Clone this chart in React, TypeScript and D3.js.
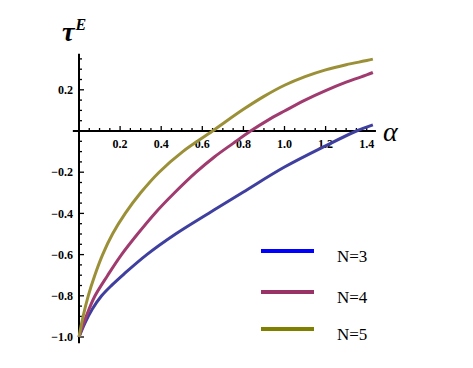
import React, { useEffect, useRef } from 'react';
import * as d3 from 'd3';

// values: [alpha, tau]
const n3: [number, number][] = [
  [0, -1.0], [0.03, -0.93], [0.065, -0.864], [0.11, -0.8], [0.16, -0.748], [0.22, -0.693],
  [0.33, -0.6], [0.47, -0.5], [0.63, -0.4], [0.8, -0.296], [1.0, -0.175], [1.2, -0.072],
  [1.35, 0], [1.43, 0.03],
];
const n4: [number, number][] = [
  [0, -1.0], [0.035, -0.9], [0.078, -0.8], [0.14, -0.7], [0.207, -0.6], [0.285, -0.5],
  [0.369, -0.4], [0.465, -0.3], [0.57, -0.2], [0.66, -0.125], [0.75, -0.06], [0.835, 0],
  [0.92, 0.053], [1.0, 0.097], [1.1, 0.15], [1.2, 0.196], [1.3, 0.237], [1.4, 0.272],
  [1.43, 0.284],
];
const n5: [number, number][] = [
  [0, -1.0], [0.02, -0.9], [0.045, -0.8], [0.077, -0.7], [0.115, -0.6], [0.163, -0.5],
  [0.225, -0.4], [0.3, -0.3], [0.39, -0.2], [0.505, -0.1], [0.65, 0], [0.8, 0.105],
  [0.9, 0.168], [1.0, 0.222], [1.1, 0.264], [1.2, 0.297], [1.3, 0.322], [1.4, 0.342],
  [1.43, 0.349],
];
const seriesNames = ['N=3', 'N=4', 'N=5'];
const lineColors = ['#3f3f9f', '#a03b70', '#9b9037'];
const legendColors = ['#0000ff', '#993366', '#808000'];
const xTicks = [0.2, 0.4, 0.6, 0.8, 1.0, 1.2, 1.4];
const yTicks = [0.2, -0.2, -0.4, -0.6, -0.8, -1.0];

const serif = '"Liberation Serif", "Times New Roman", "DejaVu Serif", serif';

const App = () => {
  const ref = useRef<SVGSVGElement>(null);

  useEffect(() => {
    const svg = d3.select(ref.current);
    svg.selectAll('*').remove();

    const x = d3.scaleLinear().domain([0, 1.4]).range([79, 366.7]);
    const y = d3.scaleLinear().domain([0, -1]).range([131, 337]);

    // minor ticks every 0.05
    const xMinor = d3.range(0.05, 1.44, 0.05);
    const yMinor = d3.range(-1.0, 0.37, 0.05);

    const axes = svg.append('g').attr('stroke', '#000');
    axes.append('line')
      .attr('x1', x(-0.03)).attr('x2', x(1.445))
      .attr('y1', y(0)).attr('y2', y(0))
      .attr('stroke-width', 2);
    axes.append('line')
      .attr('x1', x(0)).attr('x2', x(0))
      .attr('y1', y(0.375)).attr('y2', y(-1.03))
      .attr('stroke-width', 2);

    const isMajor = (v: number) => Math.abs(v * 5 - Math.round(v * 5)) < 1e-6;

    axes.selectAll('.xt').data(xMinor).enter().append('line')
      .attr('x1', d => x(d)).attr('x2', d => x(d))
      .attr('y1', y(0)).attr('y2', d => y(0) - (isMajor(d) ? 5 : 3))
      .attr('stroke-width', 1.3);
    axes.selectAll('.yt').data(yMinor.filter(d => Math.abs(d) > 1e-6)).enter().append('line')
      .attr('x1', x(0)).attr('x2', d => x(0) + (isMajor(d) ? 5 : 3))
      .attr('y1', d => y(d)).attr('y2', d => y(d))
      .attr('stroke-width', 1.3);

    const fmt = (v: number) => (v < 0 ? '\u2212' : '') + Math.abs(v).toFixed(1);

    svg.selectAll('.xl').data(xTicks).enter().append('text')
      .attr('x', d => x(d)).attr('y', y(0) + 17)
      .attr('text-anchor', 'middle')
      .attr('font-family', serif).attr('font-weight', 'bold').attr('font-size', 12)
      .text(d => d.toFixed(1));
    svg.selectAll('.yl').data(yTicks).enter().append('text')
      .attr('x', x(0) - 6).attr('y', d => y(d)).attr('dy', '0.35em')
      .attr('text-anchor', 'end')
      .attr('font-family', serif).attr('font-weight', 'bold').attr('font-size', 12)
      .text(d => fmt(d));

    // axis labels
    const tl = svg.append('text').attr('x', 62).attr('y', 41)
      .attr('font-family', serif).attr('font-weight', 'bold').attr('font-style', 'italic');
    tl.append('tspan').attr('font-size', 28).text('τ');
    tl.append('tspan').attr('dx', 1).attr('dy', -11).attr('font-size', 16).text('E');

    svg.append('text').attr('x', 383).attr('y', 141)
      .attr('font-family', serif).attr('font-style', 'italic').attr('font-size', 28)
      .text('α');

    const line = d3.line<[number, number]>()
      .x(d => x(d[0])).y(d => y(d[1]))
      .curve(d3.curveCatmullRom.alpha(0.5));

    [n3, n4, n5].forEach((s, i) => {
      svg.append('path')
        .attr('d', line(s))
        .attr('fill', 'none')
        .attr('stroke', lineColors[i])
        .attr('stroke-width', 3);
    });

    // legend
    const leg = svg.append('g');
    const legY = [251, 292, 329];
    seriesNames.forEach((name, i) => {
      leg.append('line')
        .attr('x1', 261).attr('x2', 314)
        .attr('y1', legY[i]).attr('y2', legY[i])
        .attr('stroke', legendColors[i]).attr('stroke-width', 4);
      leg.append('text')
        .attr('x', 337).attr('y', legY[i] + 11)
        .attr('font-family', serif).attr('font-size', 17)
        .text(name);
    });
  }, []);

  return (
    <svg
      ref={ref}
      width={473}
      height={368}
      style={{ position: 'absolute', left: 0, top: 0, background: '#fff' }}
    />
  );
};

export default App;
